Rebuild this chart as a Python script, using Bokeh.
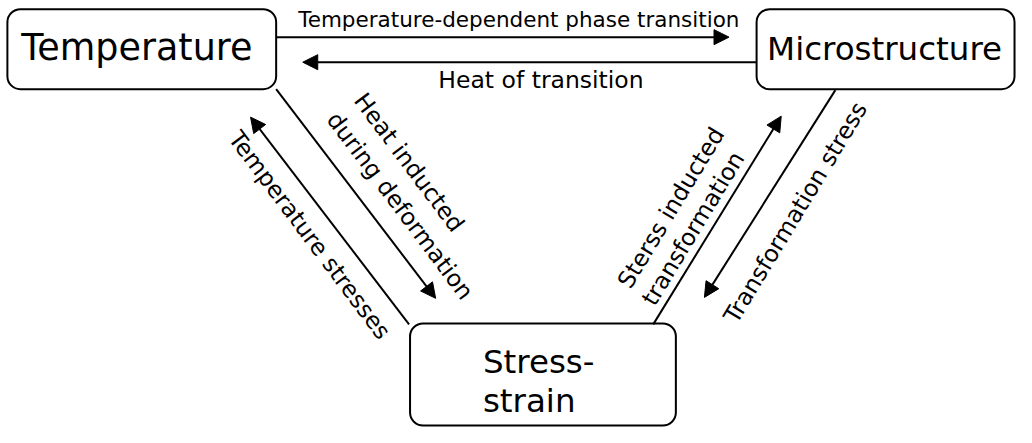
from bokeh.plotting import figure
from bokeh.models import Range1d, Arrow, NormalHead, ColumnDataSource
from bokeh.core.properties import value
from bokeh.embed import file_html
from bokeh.resources import INLINE

# ---- diagram content -------------------------------------------------
node_names = ["Temperature", "Microstructure", "Stress-", "strain"]
edge_texts_horizontal = ["Temperature-dependent phase transition", "Heat of transition"]
edge_texts_left = ["Heat inducted", "during deformation", "Temperature stresses"]
edge_texts_right = ["Sterss inducted", "transformation", "Transformation stress"]

# ---- layout (coordinates in reference pixels, y downward) -------------
box_left = [7, 768, 416]
box_right = [280, 1030, 686]
box_top = [9, 9, 335]
box_bottom = [92, 92, 441]

node_x = [138.5, 898, 490, 490]
node_y = [48.5, 50.5, 375.5, 415.5]
node_size = ["36.5px", "32.5px", "32.5px", "32.5px"]
node_align = ["center", "center", "left", "left"]

hz_x = [526.5, 549]
hz_y = [19.5, 82]
hz_size = ["21.5px", "23.5px"]

left_x = [415, 406, 314]
left_y = [168, 213, 243.5]
left_angle = -53.2

right_x = [681, 703.5, 807.5]
right_y = [215, 236.5, 220]
right_angle = 58.8

# arrows: (x_start, y_start) -> (x_end, y_end)
arrow_x0 = [280, 768, 280, 415, 663, 848]
arrow_y0 = [38, 64, 92, 336, 336, 93]
arrow_x1 = [740, 307, 442, 254, 793, 715]
arrow_y1 = [38, 64, 309, 121, 120, 308]

FONT = "DejaVu Sans"

p = figure(width=1016, height=427, x_range=Range1d(0, 1032), y_range=Range1d(443, 0),
           output_backend="svg", toolbar_location=None, min_border=0,
           x_axis_location=None, y_axis_location=None)
p.grid.visible = False
p.outline_line_color = None
p.background_fill_color = "white"
p.border_fill_color = "white"

# arrows
for x0, y0, x1, y1 in zip(arrow_x0, arrow_y0, arrow_x1, arrow_y1):
    p.add_layout(Arrow(x_start=x0, y_start=y0, x_end=x1, y_end=y1,
                       line_color="black", line_width=2,
                       end=NormalHead(size=15, fill_color="black", line_color="black", line_width=1)))

# boxes
p.quad(left=box_left, right=box_right, top=box_top, bottom=box_bottom,
       fill_color="white", line_color="black", line_width=2, border_radius=13)

# node labels
src_nodes = ColumnDataSource(dict(x=node_x, y=node_y, t=node_names, s=node_size, a=node_align))
p.text(x="x", y="y", text="t", text_font_size="s", text_align="a", source=src_nodes,
       text_font=value(FONT), text_baseline="middle", text_color="black")

# horizontal edge labels
src_hz = ColumnDataSource(dict(x=hz_x, y=hz_y, t=edge_texts_horizontal, s=hz_size))
p.text(x="x", y="y", text="t", text_font_size="s", source=src_hz,
       text_font=value(FONT), text_align="center", text_baseline="middle", text_color="black")

# diagonal labels
p.text(x=left_x, y=left_y, text=edge_texts_left, angle=left_angle, angle_units="deg",
       text_font=value(FONT), text_font_size="23.5px", text_align="center",
       text_baseline="middle", text_color="black")
p.text(x=right_x, y=right_y, text=edge_texts_right, angle=right_angle, angle_units="deg",
       text_font=value(FONT), text_font_size="23.5px", text_align="center",
       text_baseline="middle", text_color="black")

open("out.html", "w").write(file_html(p, INLINE))
